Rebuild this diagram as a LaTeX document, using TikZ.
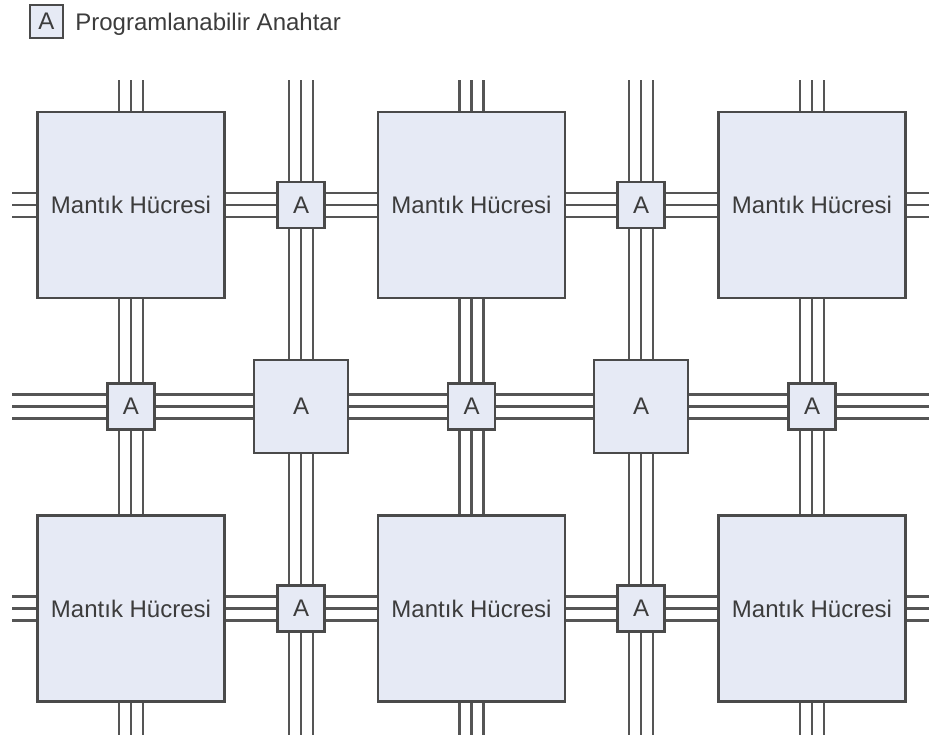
\documentclass[tikz,border=0pt]{standalone}
\usepackage{fontspec}
\setmainfont{Liberation Sans}
\usetikzlibrary{backgrounds}

\definecolor{cellfill}{HTML}{E6EAF5}
\definecolor{edgecol}{HTML}{4A4A4A}
\definecolor{wirecol}{HTML}{555555}
\definecolor{txtcol}{HTML}{3C3C3C}

\tikzset{
  wire/.style={wirecol, line width=1.3pt},
  box/.style={draw=edgecol, fill=cellfill, line width=1.2pt, text=txtcol,
    inner sep=0pt, font=\fontsize{12}{14}\selectfont},
  cell/.style={box, minimum width=93.5pt, minimum height=93pt},
  switch/.style={box, minimum width=23.5pt, minimum height=23pt},
  bigswitch/.style={box, minimum width=47pt, minimum height=46.5pt},
}

\begin{document}
\begin{tikzpicture}[x=0.5pt,y=-0.5pt]
        \useasboundingbox (0,0) rectangle (929,735);

        % Legend
        \node[box, minimum size=16.5pt] (key) at (46.5,21.5) {A};
        \node[anchor=base west, inner sep=0pt, text=txtcol,
              font=\fontsize{12}{14}\selectfont] (keytext) at (75,30)
            {Programlanabilir Anahtar};

        % Logic cells
        \node[cell] (c11) at (131,205)     {Mantık Hücresi};
        \node[cell] (c12) at (471.5,205)   {Mantık Hücresi};
        \node[cell] (c13) at (812,205)     {Mantık Hücresi};
        \node[cell] (c31) at (131,608.5)   {Mantık Hücresi};
        \node[cell] (c32) at (471.5,608.5) {Mantık Hücresi};
        \node[cell] (c33) at (812,608.5)   {Mantık Hücresi};

        % Switches between the cells
        \node[switch] (s12) at (301,205)   {A};
        \node[switch] (s14) at (641,205)   {A};
        \node[switch] (s32) at (301,608.5) {A};
        \node[switch] (s34) at (641,608.5) {A};

        % Switches of the middle row
        \node[switch]    (s21) at (131,406.5)   {A};
        \node[bigswitch] (s22) at (301,406.5)   {A};
        \node[switch]    (s23) at (471.5,406.5) {A};
        \node[bigswitch] (s24) at (641,406.5)   {A};
        \node[switch]    (s25) at (812,406.5)   {A};

        % Ends of the routing tracks
        \coordinate (r1w) at (12,205);   \coordinate (r1e) at (929,205);
        \coordinate (r2w) at (12,406.5); \coordinate (r2e) at (929,406.5);
        \coordinate (r3w) at (12,608.5); \coordinate (r3e) at (929,608.5);
        \coordinate (k1n) at (131,80);   \coordinate (k1s) at (131,735);
        \coordinate (k2n) at (301,80);   \coordinate (k2s) at (301,735);
        \coordinate (k3n) at (471.5,80); \coordinate (k3s) at (471.5,735);
        \coordinate (k4n) at (641,80);   \coordinate (k4s) at (641,735);
        \coordinate (k5n) at (812,80);   \coordinate (k5s) at (812,735);

        % Three-wire tracks, behind the boxes
        \begin{scope}[on background layer]
            \foreach \r in {1,2,3}
                \foreach \s in {-6pt,0pt,6pt}
                    \draw[wire] ([yshift=\s]r\r w) -- ([yshift=\s]r\r e);
            \foreach \k in {1,...,5}
                \foreach \s in {-6pt,0pt,6pt}
                    \draw[wire] ([xshift=\s]k\k n) -- ([xshift=\s]k\k s);
        \end{scope}

    \end{tikzpicture}
\end{document}
